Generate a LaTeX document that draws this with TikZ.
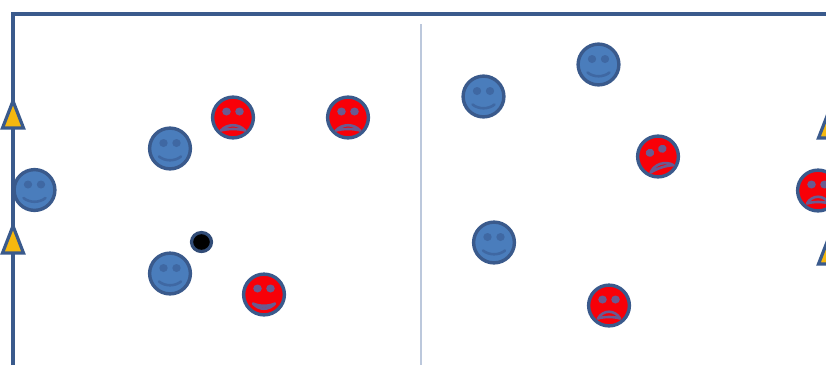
\documentclass[tikz,border=0pt]{standalone}
\definecolor{edgeblue}{HTML}{3A5A8C}
\definecolor{faceblue}{HTML}{4A7DBC}
\definecolor{eyeblue}{HTML}{3F68A3}
\definecolor{redfeature}{HTML}{6A5A90}
\definecolor{facered}{HTML}{F80008}
\definecolor{conegold}{HTML}{F5B80F}
\definecolor{divider}{HTML}{BCC8DC}
\tikzset{
  x=1pt,y=-1pt,
  frameline/.style={edgeblue,line width=4.4pt},
  divline/.style={divider,line width=2.8pt},
  conemark/.style={draw=edgeblue,fill=conegold,line width=3.2pt,line join=miter},
  ballmark/.style={draw=edgeblue!85!black,fill=black,line width=3.2pt},
  pics/smileface/.style={code={
    \fill[eyeblue] (-6.5,-5.5) ellipse (4.2 and 4);
    \fill[eyeblue] (6.5,-5.5) ellipse (4.2 and 4);
    \draw[eyeblue,line width=2.6pt,line cap=round] (-11,8) .. controls (-5,13) and (5,13) .. (11,8);
  }},
  pics/frownface/.style={code={
    \fill[redfeature] (-6.5,-6) ellipse (4.3 and 4);
    \fill[redfeature] (6.5,-6) ellipse (4.3 and 4);
    \draw[redfeature,line width=2.6pt,line join=round] (-12,13) .. controls (-6,6) and (6,6) .. (12,13) .. controls (5,11) and (-5,11) .. cycle;
  }},
  pics/lowface/.style={code={
    \fill[redfeature] (-6.5,-6) ellipse (4.3 and 4);
    \fill[redfeature] (6.5,-6) ellipse (4.3 and 4);
    \draw[redfeature,line width=2.6pt,line join=round] (-11,9) .. controls (-5,12) and (5,12) .. (11,9) .. controls (5,16) and (-5,16) .. cycle;
  }},
  pics/filledfrown/.style={code={
    \fill[redfeature] (-6.5,-6) ellipse (4.3 and 4);
    \fill[redfeature] (6.5,-6) ellipse (4.3 and 4);
    \draw[redfeature,line width=2.6pt,line join=round] (-11,13) .. controls (-6,4) and (6,4) .. (11,13) .. controls (5,11) and (-5,11) .. cycle;
  }},
}
\newcommand{\bluehead}[3]{\fill[faceblue,draw=edgeblue,line width=3.4pt] (#2,#3) circle (20.4);\pic at (#2,#3) {smileface};}
\newcommand{\redhead}[5]{\fill[facered,draw=edgeblue,line width=3.4pt] (#2,#3) circle (20.4);\pic[rotate=#5] at (#2,#3) {#4};}
\newcommand{\cone}[2]{\path[conemark] (#1,#2) -- (#1+10.5,#2+27) -- (#1-10.5,#2+27) -- cycle;}
\begin{document}
\begin{tikzpicture}
\useasboundingbox (0,0) rectangle (826,365);
\fill[white] (0,0) rectangle (826,365);
% pitch
\draw[frameline] (13,365) -- (13,14) -- (826,14);
\draw[divline] (421,24) -- (421,365);
% cones
\cone{13}{101}
\cone{13}{226}
\cone{829}{111}
\cone{829}{237}
% players
\bluehead{a}{34.5}{190}
\bluehead{b}{170}{148.5}
\bluehead{c}{170}{273.5}
\bluehead{d}{483.5}{96.5}
\bluehead{e}{598.5}{64.5}
\bluehead{f}{494}{242.5}
\redhead{g}{233}{117.5}{frownface}{0}
\redhead{h}{348}{117.5}{frownface}{0}
\redhead{i}{264}{294.5}{lowface}{0}
\redhead{j}{609}{305.5}{filledfrown}{0}
\redhead{k}{658}{156.5}{frownface}{18}
\redhead{l}{818}{190.5}{filledfrown}{0}
% ball
\draw[ballmark] (201.5,242) ellipse (10 and 9.5);
\end{tikzpicture}
\end{document}
